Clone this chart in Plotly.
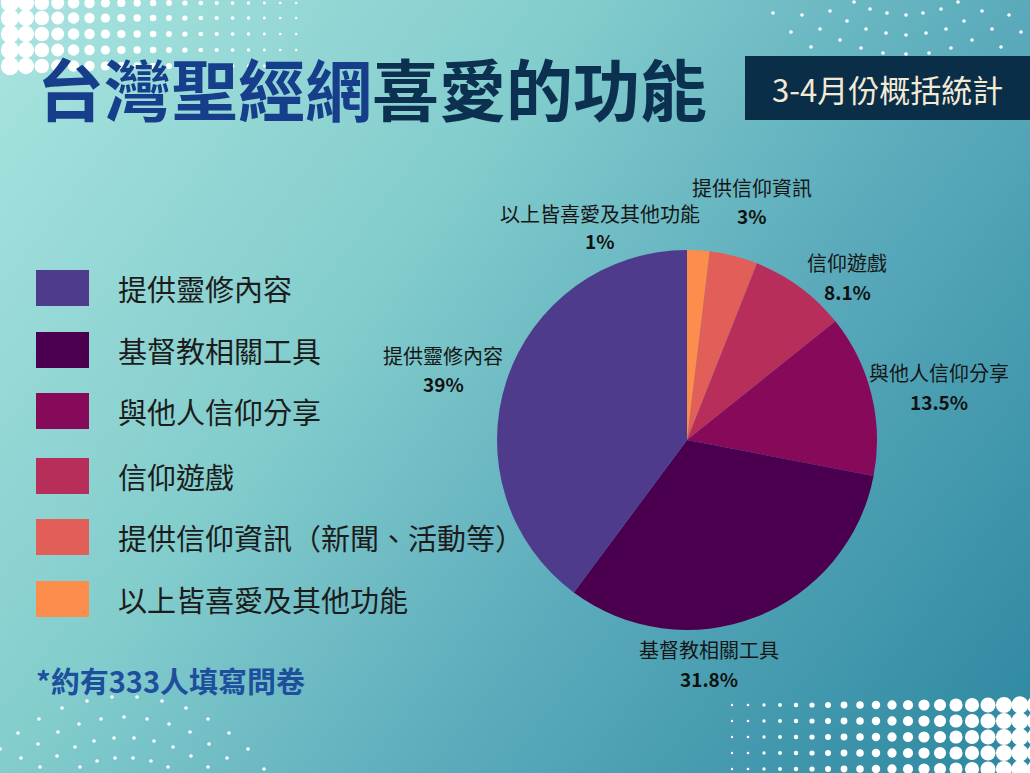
import base64
import math
import plotly.graph_objects as go

W, H = 1030, 773

# ---------------- data ----------------
categories = ["提供靈修內容", "基督教相關工具", "與他人信仰分享", "信仰遊戲", "提供信仰資訊", "以上皆喜愛及其他功能"]
legend_names = ["提供靈修內容", "基督教相關工具", "與他人信仰分享", "信仰遊戲",
                "提供信仰資訊（新聞、活動等）", "以上皆喜愛及其他功能"]
slice_share = [39.8, 32.1, 13.75, 8.25, 4.1, 1.9]   # slice sizes as drawn
pct_labels = ["39%", "31.8%", "13.5%", "8.1%", "3%", "1%"]  # printed labels

title_part1 = "台灣聖經網"
title_part2 = "喜愛的功能"
badge_text = "3-4月份概括統計"
footnote = "*約有333人填寫問卷"

# ---------------- styles / positions ----------------
colors = ["#4f3b8b", "#4a004f", "#860a59", "#b82e5b", "#e25e58", "#fd8d4c"]
FONT = "Noto Sans CJK TC"
# (center x, name y, pct y) in page pixels for pie labels
label_pos = [(443, 356, 384), (709, 649, 678), (939, 372, 401),
             (847, 262, 291), (752, 187, 216), (600, 213, 241)]
legend_x0, legend_x1 = 36, 89
legend_row_centers = [288, 350, 411, 476, 537, 599]


def px(x):
    return x / W


def py(y):
    return 1 - y / H


# ---------------- background (gradient + halftone decoration) ----------------
svg = [f'<svg xmlns="http://www.w3.org/2000/svg" width="{W}" height="{H}" viewBox="0 0 {W} {H}">',
       '<defs><linearGradient id="g" gradientUnits="userSpaceOnUse" x1="0" y1="0" x2="1030" y2="773">',
       '<stop offset="0" stop-color="#a9e4df"/>',
       '<stop offset="0.36" stop-color="#83cdcd"/>',
       '<stop offset="0.64" stop-color="#5aaabb"/>',
       '<stop offset="1" stop-color="#2c87a0"/>',
       '</linearGradient></defs>',
       f'<rect x="0" y="0" width="{W}" height="{H}" fill="url(#g)"/>']
# top-left halftone
for ry in [3, 18, 34, 50, 66]:
    cx = 10
    while cx <= 300:
        r = 9.8 * math.exp(-cx / 140)
        svg.append(f'<circle cx="{cx}" cy="{ry}" r="{r:.2f}" fill="#ffffff"/>')
        cx += 15.9
# bottom-right halftone
for ry in [705, 721, 737, 753, 769]:
    cx = 732
    while cx <= 1040:
        t = max(0.0, (cx - 732) / 290)
        r = 1.2 + 7.5 * t ** 1.3
        svg.append(f'<circle cx="{cx:.1f}" cy="{ry}" r="{r:.2f}" fill="#ffffff"/>')
        cx += 16
# scattered dots top-right and bottom-left
scatter_tr = [(773, 13), (802, 15), (830, 11), (854, 2), (870, 9), (887, 13), (906, 15), (923, 13),
              (941, 9), (958, 2), (982, 11), (1009, 15), (791, 32), (820, 29), (847, 21), (866, 29),
              (886, 33), (906, 35), (926, 33), (946, 29), (964, 21), (992, 29), (1021, 32), (811, 47),
              (840, 40), (861, 48), (883, 53), (906, 54), (929, 53), (951, 48), (972, 40), (1001, 47)]
scatter_bl = [(87, 701), (112, 697), (137, 697), (162, 701), (62, 708), (186, 708), (39, 719), (79, 724),
              (101, 719), (124, 717), (147, 719), (169, 724), (208, 719), (18, 733), (58, 732), (190, 732),
              (229, 733), (38, 744), (75, 747), (94, 741), (114, 738), (134, 738), (154, 741), (173, 747),
              (209, 744), (0, 749), (248, 749), (21, 758), (57, 756), (97, 761), (115, 758), (133, 758),
              (151, 761), (191, 756), (227, 758), (40, 767), (80, 767), (168, 767), (208, 767), (264, 769)]
for (x, y) in scatter_tr + scatter_bl:
    svg.append(f'<circle cx="{x}" cy="{y}" r="1.8" fill="#ffffff"/>')
svg.append('</svg>')
bg_uri = "data:image/svg+xml;base64," + base64.b64encode("".join(svg).encode("utf-8")).decode("ascii")

# ---------------- figure ----------------
fig = go.Figure()
# clockwise from 12 o'clock: smallest category first (reverse of legend order)
fig.add_trace(go.Pie(
    labels=categories[::-1],
    values=slice_share[::-1],
    sort=False,
    direction="clockwise",
    rotation=0,
    marker=dict(colors=colors[::-1], line=dict(width=0)),
    textinfo="none",
    hoverinfo="skip",
    showlegend=False,
    domain=dict(x=[px(497), px(877)], y=[py(630), py(250)]),
))

annotations = []
shapes = []

# title
annotations.append(dict(
    x=px(35), y=py(86), xref="paper", yref="paper", xanchor="left", yanchor="middle",
    showarrow=False,
    text=f"<span style='color:#163e8b'>{title_part1}</span><span style='color:#0c3150'>{title_part2}</span>",
    font=dict(family=FONT, size=67, weight="bold"),
))
# badge
shapes.append(dict(type="rect", xref="paper", yref="paper", x0=px(745), x1=px(1035), y0=py(120), y1=py(56),
                   fillcolor="#0a2d48", line=dict(width=0), layer="above"))
annotations.append(dict(
    x=px(887), y=py(89), xref="paper", yref="paper", xanchor="center", yanchor="middle",
    showarrow=False, text=badge_text, font=dict(family=FONT, size=31, color="#f3ead6"),
))

# legend (manual)
for name, col, cy in zip(legend_names, colors, legend_row_centers):
    shapes.append(dict(type="rect", xref="paper", yref="paper", x0=px(legend_x0), x1=px(legend_x1),
                       y0=py(cy + 18), y1=py(cy - 18), fillcolor=col, line=dict(width=0)))
    annotations.append(dict(
        x=px(116), y=py(cy), xref="paper", yref="paper", xanchor="left", yanchor="middle",
        showarrow=False, text=name, font=dict(family=FONT, size=29, color="#1c1c1c"),
    ))

# footnote
annotations.append(dict(
    x=px(34), y=py(680), xref="paper", yref="paper", xanchor="left", yanchor="middle",
    showarrow=False, text=footnote, font=dict(family=FONT, size=29, color="#1d4f9c", weight="bold"),
))

# pie labels
for cat, pct, (cx, ny, pyy) in zip(categories, pct_labels, label_pos):
    annotations.append(dict(
        x=px(cx), y=py(ny), xref="paper", yref="paper", xanchor="center", yanchor="middle",
        showarrow=False, text=cat, font=dict(family=FONT, size=20, color="#161616"),
    ))
    annotations.append(dict(
        x=px(cx), y=py(pyy), xref="paper", yref="paper", xanchor="center", yanchor="middle",
        showarrow=False, text=pct, font=dict(family=FONT, size=19, color="#111111", weight="bold"),
    ))

fig.update_layout(
    width=W, height=H,
    margin=dict(l=0, r=0, t=0, b=0),
    paper_bgcolor="#6fbcc4",
    plot_bgcolor="rgba(0,0,0,0)",
    images=[dict(source=bg_uri, xref="paper", yref="paper", x=0, y=1, sizex=1, sizey=1,
                 xanchor="left", yanchor="top", sizing="stretch", layer="below")],
    shapes=shapes,
    annotations=annotations,
    showlegend=False,
)

fig.write_html("out.html",
               config={"displayModeBar": False},
               post_script="document.body.style.margin='0';document.body.style.overflow='hidden';")
